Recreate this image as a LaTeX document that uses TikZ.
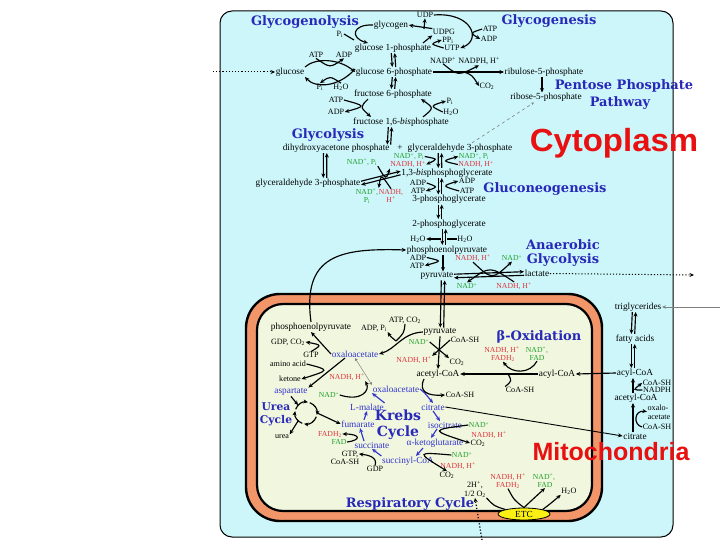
\documentclass[tikz,border=0pt]{standalone}
\usepackage{fontspec}
\setmainfont{Liberation Serif}
\newfontfamily\ttlf{DejaVu Serif}
\newfontfamily\bigf{Liberation Sans}
\usetikzlibrary{arrows.meta,shapes.geometric}
\definecolor{cyanbg}{RGB}{204,246,250}
\definecolor{orgM}{RGB}{242,150,105}
\definecolor{mitoin}{RGB}{240,247,222}
\definecolor{tblue}{RGB}{40,40,185}
\definecolor{kblue}{RGB}{50,50,205}
\definecolor{nred}{RGB}{225,50,60}
\definecolor{ngreen}{RGB}{30,160,40}
\definecolor{bigred}{RGB}{232,16,16}
\definecolor{etcy}{RGB}{250,240,20}
\newcommand\labfont{\fontsize{9.3}{10}\selectfont}
\newcommand\cofont{\fontsize{8.1}{8.5}\selectfont}
\newcommand\nfont{\fontsize{7.7}{8.2}\selectfont}
\newcommand\dup[2]{\draw[ar,transform canvas={xshift=-1.7pt}] #1 -- #2; \draw[ar,transform canvas={xshift=1.7pt}] #2 -- #1;}
\newcommand\dlr[2]{\draw[ar,transform canvas={yshift=1.8pt}] #1 -- #2; \draw[ar,transform canvas={yshift=-1.8pt}] #2 -- #1;}
\tikzset{
 lb/.style={font=\labfont, inner sep=0.6pt},
 sm/.style={font=\cofont, inner sep=0.5pt},
 rd/.style={font=\nfont, inner sep=0.4pt, text=nred},
 gr/.style={font=\nfont, inner sep=0.4pt, text=ngreen},
 bl/.style={lb, text=kblue},
 ttl/.style={font=\ttlf\bfseries\fontsize{13}{13}\selectfont, text=tblue, inner sep=0pt},
 ar/.style={-{Stealth[length=4.5pt,width=4pt]}, line width=1.15pt},
 ln/.style={line width=1.15pt},
 bar/.style={ar, draw=kblue},
 big/.style={font=\bigf\bfseries, text=bigred, inner sep=0pt},
}
\begin{document}
\begin{tikzpicture}[x=1pt,y=-1pt]
\useasboundingbox (0,0) rectangle (720,540);
% panel and mitochondrion
\draw[fill=cyanbg, line width=1pt, rounded corners=12pt] (220,11) rectangle (673,537);
\draw[fill=orgM, line width=2.4pt, rounded corners=34pt] (246,294) rectangle (602,521);
\draw[fill=mitoin, line width=2.2pt, rounded corners=26pt] (257,304) rectangle (592,511);

% titles
\node[ttl] (tglg) at (305,22) {Glycogenolysis};
\node[ttl] (tgls) at (549,21) {Glycogenesis};
\node[ttl] (tppp1) at (624,85.5) {Pentose Phosphate};
\node[ttl] (tppp2) at (620,103) {Pathway};
\node[ttl] (tgly) at (328,135) {Glycolysis};
\node[ttl] (tgng) at (545,189) {Gluconeogenesis};
\node[ttl] (tan1) at (563,245) {Anaerobic};
\node[ttl] (tan2) at (563,260.5) {Glycolysis};
\node[ttl] (tbox) at (539,337) {β-Oxidation};
\node[ttl, font=\ttlf\bfseries\fontsize{10.7}{11}\selectfont] (tur1) at (276,407) {Urea};
\node[ttl, font=\ttlf\bfseries\fontsize{10.7}{11}\selectfont] (tur2) at (276,421) {Cycle};
\node[ttl, font=\ttlf\bfseries\fontsize{14}{14}\selectfont] (tkr1) at (398,415) {Krebs};
\node[ttl, font=\ttlf\bfseries\fontsize{14}{14}\selectfont] (tkr2) at (398,433) {Cycle};
\node[ttl] (tres) at (410,504) {Respiratory Cycle};
\node[big, font=\bigf\bfseries\fontsize{32}{32}\selectfont] (cyto) at (614,143) {\scalebox{1.03}[1]{Cytoplasm}};
\node[big, font=\bigf\bfseries\fontsize{25}{25}\selectfont] (mito) at (611,452) {Mitochondria};

% ---- glycogen ----
\node[lb] (glycogen) at (391,25) {glycogen};
\node[sm] (udp) at (425,15) {UDP};
\node[sm] (udpg) at (444,32) {UDPG};
\node[sm] (ppi) at (448,40) {PP\textsubscript{i}};
\node[sm] (utp) at (452,48) {UTP};
\node[sm] (pia) at (340,34) {P\textsubscript{i}};
\node[lb] (g1p) at (393,48) {glucose 1-phosphate};
\node[sm] (atp1) at (316,55) {ATP};
\node[sm] (adp1) at (344,55) {ADP};
\node[lb] (glc) at (290,72) {glucose};
\node[lb] (g6p) at (394,72) {glucose 6-phosphate};
\node[sm] (pib) at (320,87) {P\textsubscript{i}};
\node[sm] (h2ob) at (341,87) {H\textsubscript{2}O};
\node[lb] (f6p) at (393,94) {fructose 6-phosphate};
\node[sm] (atp2) at (336,100) {ATP};
\node[sm] (adp2) at (336,112) {ADP};
\node[sm] (pic) at (450,101) {P\textsubscript{i}};
\node[sm] (h2oc) at (451,112) {H\textsubscript{2}O};
\node[lb] (f16) at (401,122) {fructose 1,6-\textit{bis}phosphate};
\node[sm] (atp3) at (490,29) {ATP};
\node[sm] (adp3) at (489,39) {ADP};
\node[sm] (nadp) at (443,60) {NADP\textsuperscript{+}};
\node[sm] (nadph) at (479,61) {NADPH, H\textsuperscript{+}};
\node[lb] (ru5p) at (544,72) {ribulose-5-phosphate};
\node[sm] (co2a) at (487,86) {CO\textsubscript{2}};
\node[lb] (r5p) at (546,97.5) {ribose-5-phosphate};

\coordinate (lin) at (213,72);
\coordinate (ugj) at (424,29);
\draw[ar, dotted, line width=1pt] (lin) -- (glc.west);
\draw[ar] (glycogen.west) .. controls (352,24) and (350,38) .. ([xshift=-25pt]g1p.north);
\draw[ln] (pia.east) -- (354,40);
\draw[ar] ([xshift=30pt]g1p.north) -- (udpg.south west);
\draw[ar] (udpg.north west) .. controls (422,28) .. (glycogen.east);
\draw[ar] (ugj) -- (udp.south);
\draw[ar] (utp.west) .. controls (430,44) .. (ppi.west);
\draw[ar] (udp.east) .. controls (472,12) and (482,40) .. (utp.east);
\draw[ar] (atp3.west) .. controls (470,33) .. (adp3.west);
\draw[ar] (glc.north east) .. controls (315,58) and (338,58) .. (g6p.west);
\draw[ar] ([yshift=3pt]g6p.west) .. controls (338,88) and (315,88) .. (glc.south east);
\draw[ar] (atp1.south) .. controls (330,68) .. (adp1.south);
\draw[ar] (h2ob.north) .. controls (330,76) .. (pib.north);
\dup{(g1p.south)}{(g6p.north)}
\dup{(g6p.south)}{(f6p.north)}
\draw[ar] ([xshift=-25pt]f6p.south) .. controls (360,107) .. ([xshift=-30pt]f16.north);
\draw[ar] (atp2.east) .. controls (366,106) .. (adp2.east);
\draw[ar] ([xshift=22pt]f16.north) .. controls (434,108) .. ([xshift=28pt]f6p.south);
\draw[ar] (h2oc.west) .. controls (430,106) .. (pic.west);
% pentose phosphate
\draw[ar] (g6p.east) -- (ru5p.west);
\draw[ar] (nadp.south) .. controls (458,76) .. (nadph.south);
\draw[ar] ([xshift=-40pt]ru5p.west) .. controls (472,75) .. (co2a.west);
\draw[ar] ([xshift=-2pt]ru5p.south) -- ([xshift=-4pt]r5p.north);

% ---- glycolysis ----
\node[lb, anchor=west] (dhap) at (282,148) {dihydroxyacetone phosphate};
\node[lb] (plus) at (400,148) {+};
\node[lb, anchor=east] (g3pR) at (513,148) {glyceraldehyde 3-phosphate};
\node[lb] (g3pL) at (308,183) {glyceraldehyde 3-phosphate};
\node[gr] (nadA) at (362,162) {NAD\textsuperscript{+}, P\textsubscript{i}};
\node[gr] (nadV) at (409,156.5) {NAD\textsuperscript{+}, P\textsubscript{i}};
\node[rd] (nadhV) at (408,164.5) {NADH, H\textsuperscript{+}};
\node[gr] (nadR) at (474,156.5) {NAD\textsuperscript{+}, P\textsubscript{i}};
\node[rd] (nadhR) at (476,164.5) {NADH, H\textsuperscript{+}};
\node[gr, align=center] (nadBot) at (367,196) {NAD\textsuperscript{+},\\P\textsubscript{i}};
\node[rd, align=center] (nadhBot) at (391,196) {NADH,\\H\textsuperscript{+}};
\node[lb] (bpg) at (447,173) {1,3-\textit{bis}phosphoglycerate};
\node[sm] (adp4) at (418,183) {ADP};
\node[sm] (atp4) at (418,191) {ATP};
\node[sm] (adp5) at (467,181) {ADP};
\node[sm] (atp5) at (467,191) {ATP};
\node[lb] (pg3) at (449,199.5) {3-phosphoglycerate};
\node[lb] (pg2) at (449,224) {2-phosphoglycerate};
\node[sm] (h2od) at (418,239) {H\textsubscript{2}O};
\node[sm] (h2oe) at (465,239) {H\textsubscript{2}O};
\node[lb] (pep) at (447,250) {phosphoenolpyruvate};
\node[sm] (adp6) at (418,257.5) {ADP};
\node[sm] (atp6) at (417,265.5) {ATP};
\node[lb] (pyr) at (437,276) {pyruvate};
\node[rd] (nadhF) at (473,258) {NADH, H\textsuperscript{+}};
\node[gr] (nadF) at (512,258) {NAD\textsuperscript{+}};
\node[lb] (lac) at (537,273.5) {lactate};
\node[gr] (nadG) at (467,286) {NAD\textsuperscript{+}};
\node[rd] (nadhG) at (514,286) {NADH, H\textsuperscript{+}};

\draw[gray, dashed, line width=0.6pt, -{Stealth[length=3pt,width=3pt]}] ([xshift=12pt]g3pR.north) -- ([xshift=-12pt]r5p.south);
\dup{([xshift=-11pt]f16.south)}{([xshift=-11pt]plus.north)}
\dup{([xshift=-11pt]dhap.south)}{([xshift=17pt]g3pL.north)}
\dup{([xshift=-20pt]g3pR.south)}{([xshift=-7pt]bpg.north)}
\draw[ar] (nadV.east) .. controls (438,159) .. (nadhV.east);
\draw[ar] (nadhR.west) .. controls (442,161) .. (nadR.west);
\dlr{(g3pL.east)}{(bpg.west)}
\draw[ar] (nadA.south east) .. controls (386,180) .. (nadhV.south west);
\draw[ar] (nadhBot.north) .. controls (381,174) .. (nadBot.north east);
\dup{([xshift=-7pt]bpg.south)}{([xshift=-9pt]pg3.north)}
\draw[ar] (adp4.east) .. controls (438,187) .. (atp4.east);
\draw[ar] (atp5.west) .. controls (442,186) .. (adp5.west);
\dup{([xshift=-9pt]pg3.south)}{([xshift=-9pt]pg2.north)}
\dup{([xshift=-5pt]pg2.south)}{([xshift=-3pt]pep.north)}
\coordinate (jh1) at (441,239);
\coordinate (jh2) at (447,239);
\draw[ar] (jh1) -- (h2od.east);
\draw[ln] (h2oe.west) -- (jh2);
\draw[ar] ([xshift=-4pt]pep.south) -- ([xshift=6pt]pyr.north);
\draw[ar] (adp6.east) .. controls (442,261) .. (atp6.east);
\dlr{(pyr.east)}{(lac.west)}
\draw[ar] (nadhF.south) .. controls (492,280) .. (nadF.south);
\draw[ar] (nadhG.north) .. controls (490,266) .. (nadG.north);
\coordinate (lacout) at (694,275);
\draw[ar, dotted, line width=1pt] (lac.east) -- (lacout);

% ---- fatty acids (cytoplasm) ----
\node[lb] (trig) at (638,307) {triglycerides};
\node[lb] (fa) at (635,339) {fatty acids};
\node[lb] (acylC) at (635,373) {acyl-CoA};
\node[sm] (coashA) at (657,383) {CoA-SH};
\node[sm] (nadphB) at (657,390) {NADPH};
\node[lb] (acetC) at (636,398) {acetyl-CoA};
\node[sm] (oxa1) at (658,408) {oxalo-};
\node[sm] (oxa2) at (659,417) {acetate};
\node[sm] (coashB) at (657,427) {CoA-SH};
\node[lb] (citC) at (635,436) {citrate};
\coordinate (trigin) at (720,307);
\draw[-{Stealth[length=4pt,width=3.5pt]}, gray, line width=0.6pt] (trigin) -- (trig.east);
\dup{([xshift=-4pt]trig.south)}{([xshift=-2pt]fa.north)}
\dup{([xshift=-2pt]fa.south)}{([xshift=-2pt]acylC.north)}
\draw[ar] ([xshift=-3pt]acetC.north) -- ([xshift=-2pt]acylC.south);
\draw[ar] (nadphB.west) .. controls (633,390) .. (coashA.west);
\draw[ar] ([xshift=-2pt]citC.north) -- ([xshift=-3pt]acetC.south);
\draw[ar] (coashB.west) .. controls (633,425) and (634,410) .. (oxa1.south west);

% ---- mitochondrion ----
\node[lb] (pepM) at (311,327) {phosphoenolpyruvate};
\node[sm] (adppi) at (374,328) {ADP, P\textsubscript{i}};
\node[sm] (atpco2) at (405,320) {ATP, CO\textsubscript{2}};
\node[sm] (gdpco2) at (288,342) {GDP, CO\textsubscript{2}};
\node[sm] (gtp) at (311,355) {GTP};
\node[bl] (oaa1) at (355,354) {oxaloacetate};
\node[gr] (nadM) at (419,342) {NAD\textsuperscript{+}};
\node[rd] (nadhM) at (414,360) {NADH, H\textsuperscript{+}};
\node[lb] (pyrM) at (440,332) {pyruvate};
\node[sm] (coashM) at (465,340) {CoA-SH};
\node[sm] (co2M) at (457,362) {CO\textsubscript{2}};
\node[lb] (acM) at (438,374) {acetyl-CoA};
\node[sm] (aa) at (288,364) {amino acid};
\node[sm] (ket) at (290,379) {ketone};
\node[rd] (nadhK) at (347,377) {NADH, H\textsuperscript{+}};
\node[bl] (asp) at (291,392) {aspartate};
\node[gr] (nadK) at (329,395) {NAD\textsuperscript{+}};
\node[bl] (oaa2) at (396,389) {oxaloacetate};
\node[bl] (mal) at (367,407) {L-malate};
\node[rd] (nadhB) at (502,350) {NADH, H\textsuperscript{+}};
\node[rd] (fadh2B) at (503,358) {FADH\textsubscript{2}};
\node[gr] (nadB) at (537,350) {NAD\textsuperscript{+},};
\node[gr] (fadB) at (537,358) {FAD};
\node[lb] (acylM) at (557,374) {acyl-CoA};
\node[sm] (coashBo) at (520,390) {CoA-SH};
\node[sm] (coashK) at (460,395) {CoA-SH};
\node[bl] (cit) at (433,407) {citrate};
\node[sm] (urea) at (282,437) {urea};
\node[bl] (fum) at (358,424) {fumarate};
\node[rd] (fadh2K) at (330,434) {FADH\textsubscript{2}};
\node[gr] (fadK) at (339,442) {FAD};
\node[bl] (succ) at (372,445) {succinate};
\node[sm] (gtp2) at (350,454) {GTP,};
\node[sm] (coashS) at (345,462) {CoA-SH};
\node[sm] (gdp) at (375,469) {GDP};
\node[bl] (scoa) at (408,461) {succinyl-CoA};
\node[bl] (icit) at (445,425) {isocitrate};
\node[gr] (nadI) at (479,425) {NAD\textsuperscript{+}};
\node[rd] (nadhI) at (489,435) {NADH, H\textsuperscript{+}};
\node[sm] (co2I) at (478,443) {CO\textsubscript{2}};
\node[bl] (akg) at (435,443) {α-ketoglutarate};
\node[gr] (nadA2) at (462,455) {NAD\textsuperscript{+}};
\node[rd] (nadhA2) at (458,466) {NADH, H\textsuperscript{+}};
\node[sm] (co2A2) at (447,475) {CO\textsubscript{2}};
\node[sm] (hh) at (475,485) {2H\textsuperscript{+},};
\node[sm] (o2) at (475,494) {1/2 O\textsubscript{2}};
\node[rd] (nadhE) at (508,477) {NADH, H\textsuperscript{+}};
\node[rd] (fadh2E) at (508,485) {FADH\textsubscript{2}};
\node[gr] (nadE) at (544,477) {NAD\textsuperscript{+},};
\node[gr] (fadE) at (545,485) {FAD};
\node[sm] (h2oE) at (569,491) {H\textsubscript{2}O};
\node[draw, fill=etcy, ellipse, line width=0.8pt, minimum width=52pt, minimum height=12pt, inner sep=0pt, font=\labfont] (etc) at (524,514) {ETC};
\node[circle, minimum size=22pt, inner sep=0pt] (uc) at (306,413) {};

% cytoplasm <-> mitochondrion
\draw[ar] (pepM.north) .. controls (302,255) and (340,248) .. (pep.west);
\dup{([xshift=6pt]pyr.south)}{([xshift=2pt]pyrM.north)}
\draw[ar] (acylC.west) -- (acylM.east);
\draw[ar, line width=0.9pt] (cit.east) -- (citC.west);
\coordinate (o2in) at (482,540);
\draw[ar, dotted, line width=1.3pt] (o2in) -- (o2.south);

% pyruvate reactions
\draw[ar] (pyrM.south) -- (acM.north);
\draw[ar] (nadM.east) -- (co2M.north west);
\draw[ar] (coashM.west) -- (nadhM.north east);
\coordinate (jpc) at (396,341);
\draw[ar] (pyrM.west) .. controls (402,333) and (396,349) .. (oaa1.east);
\draw[ln] (atpco2.south) .. controls (404,333) .. (jpc);
\draw[ar] (jpc) .. controls (390,336) .. (adppi.south east);
\draw[ar] (oaa1.west) -- (pepM.south);
\draw[ar] (gtp.north) .. controls (322,345) .. (gdpco2.east);
\draw[ar] ([xshift=-10pt]oaa1.south) -- (asp.north east);
\draw[ar] (aa.east) .. controls (330,370) .. (ket.east);
\draw[{Stealth[length=3pt,width=3pt]}-{Stealth[length=3pt,width=3pt]}, gray, line width=0.5pt] (oaa1.south) -- (oaa2.north west);
\draw[ar] (nadK.east) .. controls (362,402) and (370,390) .. (nadhK.south east);
\draw[bar] (mal.north east) -- (oaa2.south west);

% beta-oxidation
\coordinate (jb) at (508,374);
\draw[ar] (acylM.west) -- (acM.east);
\draw[ar] (fadB.south) .. controls (530,374) and (512,374) .. (fadh2B.south);
\draw[ln] (coashBo.north west) .. controls (512,381) .. (jb);

% Krebs cycle
\draw[bar] (oaa2.east) .. controls (424,392) .. (cit.north);
\draw[ar] ([xshift=-14pt]acM.south) .. controls (418,392) and (428,396) .. (coashK.west);
\draw[bar] (cit.south) -- ([xshift=-5pt]icit.north);
\draw[bar] ([xshift=-8pt]icit.south) -- ([xshift=-4pt]akg.north);
\draw[ar] (nadI.west) .. controls (430,430) .. (co2I.west);
\draw[bar] ([xshift=-12pt]akg.south) -- ([xshift=8pt]scoa.north);
\draw[ar] (nadA2.west) .. controls (416,452) .. (co2A2.north);
\draw[bar] (scoa.north west) -- (succ.south);
\draw[ar] (gdp.north) .. controls (378,457) and (368,455) .. (gtp2.east);
\draw[bar] ([xshift=-8pt]succ.north) -- ([xshift=2pt]fum.south);
\draw[ar] (fadK.east) .. controls (362,440) and (360,434) .. (fadh2K.east);
\draw[bar] ([xshift=6pt]fum.north) -- (mal.south);

% urea cycle
\draw[ar] (uc) ++(110:11) arc (110:190:11);
\draw[ar] (uc) ++(200:11) arc (200:280:11);
\draw[ar] (uc) ++(290:11) arc (290:370:11);
\draw[ar] (uc) ++(20:11) arc (20:100:11);
\draw[ar] (asp.south) -- (uc.north west);
\draw[ar] (uc.east) -- (fum.west);
\draw[ar] (uc.south west) -- (urea.north east);

% respiratory chain
\draw[ln] (fadh2E.south) .. controls (514,500) .. (etc.north);
\draw[ar] (etc.north) .. controls (532,500) .. (fadE.south);
\draw[ar] (etc.north east) .. controls (550,504) .. (h2oE.south west);
\draw[ln] (o2.south east) .. controls (494,506) .. (etc.north west);
\end{tikzpicture}
\end{document}
